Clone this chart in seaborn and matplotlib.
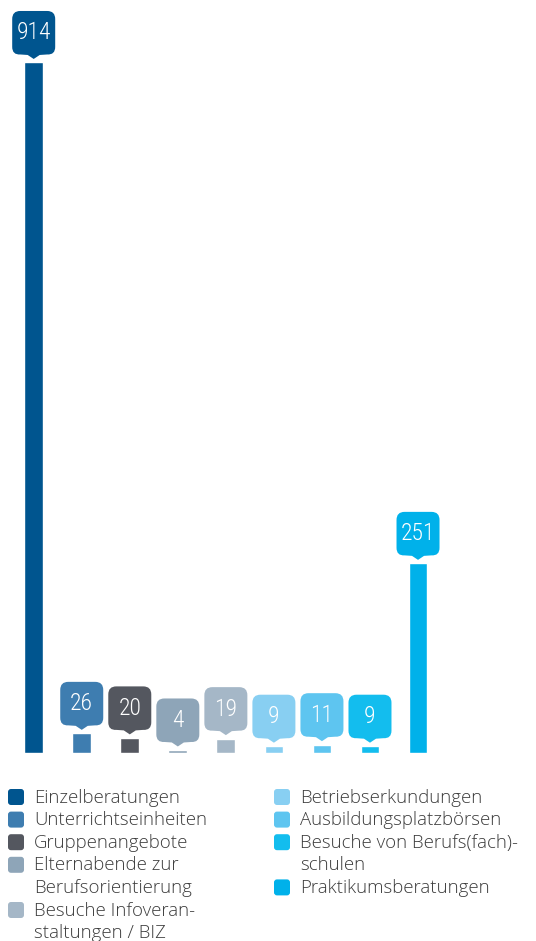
import numpy as np
import pandas as pd
import matplotlib
matplotlib.use("Agg")
import matplotlib.pyplot as plt
from matplotlib import font_manager
from matplotlib.path import Path
from matplotlib.patches import PathPatch, FancyBboxPatch
from matplotlib.transforms import ScaledTranslation, IdentityTransform
import seaborn as sns

sns.set_theme(style="white")

# ============================
# Daten
# ============================
kategorien = ["Einzelberatungen", "Unterrichtseinheiten", "Gruppenangebote",
              "Elternabende zur Berufsorientierung", "Besuche Infoveranstaltungen / BIZ",
              "Betriebserkundungen", "Ausbildungsplatzbörsen",
              "Besuche von Berufs(fach)schulen", "Praktikumsberatungen"]
werte = [914, 26, 20, 4, 19, 9, 11, 9, 251]
farben = ["#00558f", "#3e7db0", "#54575f", "#8ea5b8", "#a5b7c7",
          "#88cff2", "#5ec5f0", "#13bdee", "#00b1ea"]
# Legendentexte mit Umbruch wie im Original
legenden_text = ["Einzelberatungen", "Unterrichtseinheiten", "Gruppenangebote",
                 "Elternabende zur\nBerufsorientierung", "Besuche Infoveran-\nstaltungen / BIZ",
                 "Betriebserkundungen", "Ausbildungsplatzbörsen",
                 "Besuche von Berufs(fach)-\nschulen", "Praktikumsberatungen"]

df = pd.DataFrame({"kategorie": kategorien, "wert": werte})

namen = {f.name for f in font_manager.fontManager.ttflist}
kandidaten = ["Roboto Condensed", "Liberation Sans Narrow", "Archivo Narrow",
              "PT Sans Narrow", "Roboto"]
zahl_font = [n for n in kandidaten if n in namen] + ["DejaVu Sans"]
zahl_font = zahl_font[0]
text_font = "Open Sans" if "Open Sans" in namen else "DejaVu Sans"

W, H = 536, 941
fig = plt.figure(figsize=(W / 100, H / 100), dpi=100)
ax = fig.add_axes([0, 188 / H, 1, (H - 188) / H])

sns.barplot(data=df, x="kategorie", y="wert", hue="kategorie", order=kategorien,
            hue_order=kategorien, palette=farben, width=0.39, legend=False,
            saturation=1, ax=ax)

# ============================
# Wertelabels (Sprechblasen)
# ============================
hw, y0, y1, r, tip = 21.5, 7.5, 51.5, 8, 3.5
verts = [(-hw, y0 + r), (-hw, y0), (-hw + r, y0 + 0.5), (-6, y0), (0, tip), (6, y0),
         (hw - r, y0 + 0.5), (hw, y0), (hw, y0 + r), (hw, y1 - r), (hw, y1), (hw - r, y1),
         (-hw + r, y1), (-hw, y1), (-hw, y1 - r), (-hw, y0 + r)]
codes = [Path.MOVETO, Path.CURVE3, Path.CURVE3, Path.LINETO, Path.LINETO, Path.LINETO,
         Path.LINETO, Path.CURVE3, Path.CURVE3, Path.LINETO, Path.CURVE3, Path.CURVE3,
         Path.LINETO, Path.CURVE3, Path.CURVE3, Path.CLOSEPOLY]
blase = Path(verts, codes)

ax.set_xlim(-33.7 / 48.04, (W - 33.7) / 48.04)
ax.set_ylim(0, (H - 188) / 0.7555)

for i, (v, c) in enumerate(zip(werte, farben)):
    trans = IdentityTransform() + ScaledTranslation(i, v, ax.transData)
    ax.add_patch(PathPatch(blase, facecolor=c, edgecolor="none", transform=trans,
                           clip_on=False))
    ax.annotate(str(v), xy=(i, v), xytext=(0, 29.5), textcoords="offset pixels",
                ha="center", va="center", color="white", fontsize=17,
                family=zahl_font, weight="light", annotation_clip=False)

ax.set_xlim(-33.7 / 48.04, (W - 33.7) / 48.04)
ax.set_ylim(0, (H - 188) / 0.7555)
ax.axis("off")

# ============================
# Legende (zwei Spalten)
# ============================
spalten = [(range(0, 5), 8, 34), (range(5, 9), 274, 300)]
for idx, mx, tx in spalten:
    zeile = 0
    for k in idx:
        base = 802.7 + zeile * 22.6
        mc = base - 5.7
        fig.add_artist(FancyBboxPatch((mx, H - mc - 8), 16, 16,
                                      boxstyle="round,pad=0,rounding_size=3",
                                      facecolor=farben[k], edgecolor="none",
                                      transform=IdentityTransform()))
        for zeilentext in legenden_text[k].split("\n"):
            b = 802.7 + zeile * 22.6
            fig.text(tx / W, (H - b) / H, zeilentext, ha="left", va="baseline",
                     fontsize=13.4, color="#3c3c3c", family=text_font, weight="light")
            zeile += 1

fig.savefig("out.png", dpi=100)
